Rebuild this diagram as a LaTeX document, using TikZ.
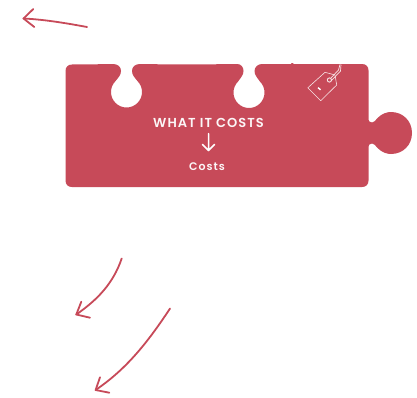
\documentclass[tikz,border=0pt]{standalone}
\usepackage{fontspec}
\setmainfont{Poppins}[BoldFont={Poppins SemiBold}]
\definecolor{puzzle}{HTML}{C74A59}
\tikzset{
  handarrow/.style={draw=puzzle,line width=1.8pt,line cap=round,line join=round},
  tagline/.style={draw=white!85!puzzle,line width=0.6pt,line join=round},
  whitetext/.style={text=white!95!puzzle,inner sep=0pt}
}
\begin{document}
\begin{tikzpicture}[x=1pt,y=-1pt]
\useasboundingbox (0,0) rectangle (417,397);
% puzzle piece
\fill[puzzle]
  (72,64.5) .. controls (85,64) and (100,64.5) .. (113,64)
  .. controls (118,64) and (121,67) .. (121,71)
  .. controls (121,75) and (118,78) .. (115.54,81.04)
  arc[start angle=225,end angle=-45,radius=15.5]
  .. controls (135,78) and (132,75) .. (132,71)
  .. controls (132,67) and (135,64) .. (140,64)
  .. controls (165,64.5) and (205,64.5) .. (237,64)
  .. controls (241,64) and (243.5,67) .. (243.5,71)
  .. controls (243.5,75) and (240.5,78) .. (238.04,81.54)
  arc[start angle=225,end angle=-45,radius=15.5]
  .. controls (257.5,78) and (254.5,75) .. (254.5,71)
  .. controls (254.5,67) and (258,64) .. (262,64)
  -- (291,64) -- (291.5,63) -- (293,63) -- (293.5,64)
  -- (362,64) .. controls (366,64) and (368.5,66.5) .. (368.5,70.5)
  -- (368.5,118) .. controls (368.5,121.5) and (370,122.5) .. (372,122.5)
  .. controls (374,122.5) and (375.5,120.5) .. (377.5,118)
  .. controls (382,113.5) and (387,112) .. (391,112)
  .. controls (403,112) and (412,121) .. (412,133)
  .. controls (412,145) and (403,154) .. (391,154)
  .. controls (387,154) and (382,152.5) .. (377.5,148)
  .. controls (375.5,145.5) and (374,143.5) .. (372,143.5)
  .. controls (370,143.5) and (368.5,144.5) .. (368.5,148)
  -- (368.5,180.5) .. controls (368.5,184.5) and (366,187) .. (362,187)
  -- (72,187) .. controls (68,187) and (65.5,184.5) .. (65.5,180.5)
  -- (65.5,71) .. controls (65.5,67) and (68,64.5) .. (72,64.5) -- cycle;
% labels
\node[whitetext,font=\fontsize{13}{14}\selectfont\bfseries\addfontfeatures{LetterSpace=8}] (title) at (208.5,122.7) {WHAT IT COSTS};
\node[whitetext,font=\fontsize{11}{13}\selectfont\bfseries\addfontfeatures{LetterSpace=9}] (costs) at (207,167) {Costs};
\coordinate (downa) at (208.5,133.5);
\coordinate (downb) at (208.5,150.5);
\coordinate (downl) at (202.5,144.5);
\coordinate (downr) at (214.5,144.5);
\draw[draw=white,line width=1.5pt,line cap=round,line join=round] (downa) -- (downb) (downl) -- (downb) -- (downr);
% price tag
\coordinate (t1) at (307.8,87.8);
\coordinate (t2) at (325,72.3);
\coordinate (t3) at (335,75);
\coordinate (t4) at (336.7,85);
\coordinate (t5) at (320.7,100.7);
\coordinate (hole) at (329.4,80);
\draw[tagline] (t1) -- (t2) -- (t3) -- (t4) -- (t5) -- cycle;
\draw[tagline,line width=0.9pt] (hole) circle (2.1);
\draw[tagline,line width=0.7pt] (330.5,78.5) -- (338.5,70) -- (340,64.5);
\draw[tagline,line width=0.7pt] (331,81) -- (340.5,71) -- (341,64.5);
\draw[white,line width=1.4pt] (318,87.6) -- (320.5,89.8);
% hand-drawn arrows
\coordinate (a1s) at (87,27);
\coordinate (a1t) at (23.5,18.5);
\draw[handarrow] (a1s) .. controls (68,23.5) and (45,19.5) .. (a1t);
\draw[handarrow] (33.3,9) -- (a1t) -- (34.3,27);
\coordinate (a2s) at (121.7,258.5);
\coordinate (a2t) at (76.3,314.5);
\draw[handarrow] (a2s) .. controls (113,284) and (97,300) .. (a2t);
\draw[handarrow] (81.3,301.7) -- (a2t) -- (90,317.7);
\coordinate (a3s) at (170,308.5);
\coordinate (a3t) at (95.6,390);
\draw[handarrow] (a3s) .. controls (146,345) and (125,370) .. (a3t);
\draw[handarrow] (100,377.3) -- (a3t) -- (109.3,392.7);
\end{tikzpicture}
\end{document}
